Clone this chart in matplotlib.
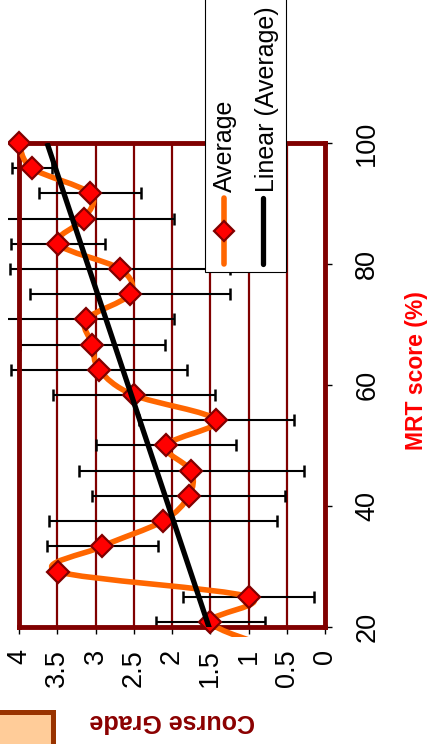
import numpy as np
import matplotlib
matplotlib.use('Agg')
import matplotlib.pyplot as plt
from matplotlib.path import Path
from matplotlib.patches import PathPatch, Rectangle
from matplotlib.lines import Line2D

plt.rcParams['font.family'] = ['Liberation Sans', 'DejaVu Sans']

# ---- data (MRT score vs average course grade) ----
mrt_score = [100.0, 95.83, 91.67, 87.5, 83.33, 79.17, 75.0, 70.83, 66.67, 62.5,
             58.33, 54.17, 50.0, 45.83, 41.67, 37.5, 33.33, 29.17, 25.0, 20.83, 16.67]
avg_grade = [4.00, 3.83, 3.07, 3.15, 3.49, 2.68, 2.55, 3.12, 3.04, 2.95,
             2.50, 1.42, 2.08, 1.75, 1.78, 2.12, 2.91, 3.49, 1.00, 1.50, 0.72]
grade_err = [0.0, 0.26, 0.67, 1.18, 0.61, 1.44, 1.31, 1.15, 0.95, 1.15,
             1.06, 1.01, 0.92, 1.47, 1.26, 1.49, 0.73, 0.0, 0.86, 0.71, 0.28]
grade_ticks = [4, 3.5, 3, 2.5, 2, 1.5, 1, 0.5, 0]
grade_tick_labels = ['4', '3.5', '3', '2.5', '2', '1.5', '1', '0.5', '0']
mrt_ticks = [20, 40, 60, 80, 100]
mrt_tick_labels = ['20', '40', '60', '80', '100']

W, H = 432, 744
fig = plt.figure(figsize=(W / 100, H / 100), dpi=100)
fig.patch.set_facecolor('white')

# axes (chart rotated 90 degrees: grade horizontal, MRT vertical)
ax = fig.add_axes([19 / W, 1 - 627 / H, (325 - 19) / W, (627 - 143) / H])
ax.set_xlim(4, 0)
ax.set_ylim(20, 100)
ax.set_facecolor('white')

DARK_RED = '#800000'
for s in ax.spines.values():
    s.set_color(DARK_RED)
    s.set_linewidth(3.5)

ax.set_axisbelow(True)
ax.xaxis.grid(True, color=DARK_RED, linewidth=1.6)
ax.yaxis.grid(False)

ax.set_xticks(grade_ticks)
ax.set_xticklabels(grade_tick_labels, rotation=90)
ax.tick_params(axis='x', direction='out', length=5, width=1, color='black',
               labelsize=19.5, pad=11)
ax.yaxis.tick_right()
ax.set_yticks(mrt_ticks)
ax.set_yticklabels(mrt_tick_labels, rotation=90)
ax.tick_params(axis='y', direction='out', length=5, width=1, color='black',
               labelsize=19.5, pad=16)
for lbl in ax.get_yticklabels():
    lbl.set_va('center')
    lbl.set_ha('left')

# clip regions (chart area)
clip_rect = Rectangle((8 / W, (H - 637) / H), 1.0, 1.0, transform=fig.transFigure,
                      facecolor='none', edgecolor='none')
clip_mk = Rectangle((8 / W, (H - 633) / H), 1.0, 1.0, transform=fig.transFigure,
                    facecolor='none', edgecolor='none')

# error bars
eb = ax.errorbar(avg_grade, mrt_score, xerr=grade_err, fmt='none', ecolor='black',
                 elinewidth=1.5, capsize=4.5, capthick=1.8, zorder=2)
for art in eb.get_children():
    art.set_clip_path(clip_rect)

# smoothed line (Excel-like Catmull-Rom bezier)
def smooth_path(xs, ys):
    P = np.column_stack([xs, ys]).astype(float)
    n = len(P)
    verts = [P[0]]
    codes = [Path.MOVETO]
    for i in range(n - 1):
        p0 = P[i - 1] if i > 0 else P[i]
        p1 = P[i]
        p2 = P[i + 1]
        p3 = P[i + 2] if i + 2 < n else P[i + 1]
        c1 = p1 + (p2 - p0) / 6.0
        c2 = p2 - (p3 - p1) / 6.0
        verts += [c1, c2, p2]
        codes += [Path.CURVE4] * 3
    return Path(verts, codes)

orange = '#FF6600'
pp = PathPatch(smooth_path(avg_grade, mrt_score), facecolor='none', edgecolor=orange,
               linewidth=4, zorder=3, capstyle='round', joinstyle='round')
ax.add_patch(pp)
pp.set_clip_path(clip_rect)

mk, = ax.plot(avg_grade, mrt_score, linestyle='none', marker='D', markersize=11,
              markerfacecolor='#FF0000', markeredgecolor=DARK_RED, markeredgewidth=1.6,
              zorder=4)
mk.set_clip_path(clip_mk)

# linear trendline
coef = np.polyfit(mrt_score, avg_grade, 1)
tx = np.array([min(mrt_score), max(mrt_score)])
ty = np.polyval(coef, tx)
ax.plot(ty, tx, color='black', linewidth=3.8, zorder=5, solid_capstyle='butt')

# axis titles
fig.text(172 / W, 1 - 721 / H, 'Course Grade', rotation=180, ha='center', va='center',
         fontsize=18, fontweight='bold', color='#8B0000')
fig.text(417 / W, 1 - 371 / H, 'MRT score (%)', rotation=90, ha='center', va='center',
         fontsize=16.5, fontweight='bold', color='#FF0000')

# legend (rotated, drawn manually)
leg_box = Rectangle((205 / W, 1 - 272 / H), 81 / W, 0.5, transform=fig.transFigure,
                    facecolor='white', edgecolor='black', linewidth=0.8, zorder=10)
fig.add_artist(leg_box)
fig.add_artist(Line2D([224 / W, 224 / W], [1 - 198 / H, 1 - 264 / H], transform=fig.transFigure,
                      color=orange, linewidth=4, solid_capstyle='round', zorder=11))
fig.add_artist(Line2D([224 / W], [1 - 231 / H], transform=fig.transFigure, linestyle='none',
                      marker='D', markersize=10, markerfacecolor='#FF0000',
                      markeredgecolor=DARK_RED, markeredgewidth=1.6, zorder=12))
fig.add_artist(Line2D([263 / W, 263 / W], [1 - 198 / H, 1 - 264 / H], transform=fig.transFigure,
                      color='black', linewidth=3.8, solid_capstyle='round', zorder=11))
fig.text(225 / W, 1 - 192 / H, 'Average', rotation=90, ha='center', va='bottom',
         fontsize=18, zorder=12)
fig.text(267 / W, 1 - 192 / H, 'Linear (Average)', rotation=90, ha='center', va='bottom',
         fontsize=18, zorder=12)

# decorative box bottom-left
fig.add_artist(Rectangle((-10 / W, -10 / H), 62.5 / W, (H - 711.5 + 10) / H,
                         transform=fig.transFigure, facecolor='#FFCC99',
                         edgecolor='#993300', linewidth=3.6, zorder=9))

fig.savefig('out.png', dpi=100)
